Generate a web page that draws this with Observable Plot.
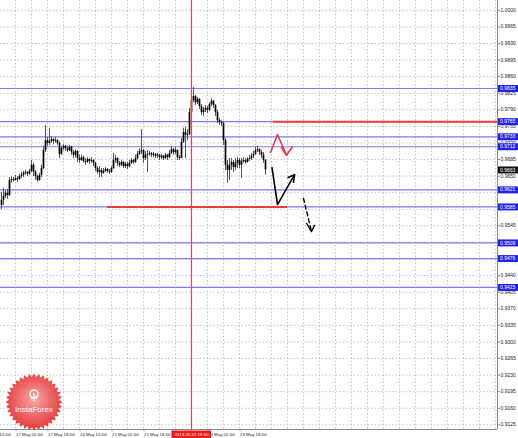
<!DOCTYPE html>
<html><head><meta charset="utf-8">
<script src="https://cdn.jsdelivr.net/npm/d3@7"></script>
<script src="https://cdn.jsdelivr.net/npm/@observablehq/plot@0.6"></script>
<style>
html,body{margin:0;padding:0;background:#fff;}
#chart{position:relative;width:518px;height:438px;overflow:hidden;}
</style></head><body><div id="chart"></div>
<script>
// H1 bars, index 0 = 17 May 02:00 (weekend hours skipped); first bar is index -7
const firstBarIndex = -7;
// prices in pips (x 0.0001)
const openPips = [9588,9599,9607,9614,9609,9641,9643,9641,9645,9643,9649,9652,9656,9658,9654,9660,9673,9658,9649,9641,9652,9666,9704,9725,9719,9723,9727,9723,9725,9719,9696,9708,9713,9708,9704,9711,9700,9694,9702,9687,9683,9689,9681,9679,9685,9681,9683,9677,9666,9658,9662,9656,9660,9664,9660,9658,9666,9683,9687,9677,9673,9679,9670,9675,9670,9677,9683,9679,9687,9696,9702,9704,9687,9694,9696,9698,9694,9696,9692,9694,9689,9692,9687,9694,9689,9698,9706,9700,9704,9689,9687,9722,9742,9736,9738,9784,9810,9818,9805,9812,9797,9784,9789,9793,9789,9801,9808,9799,9784,9767,9763,9761,9725,9673,9662,9673,9679,9668,9677,9683,9673,9681,9683,9679,9685,9687,9692,9696,9704,9706,9700,9694,9683];
const highPips = [9616,9624,9620,9622,9647,9649,9647,9652,9649,9654,9658,9660,9662,9660,9664,9683,9677,9662,9652,9656,9673,9713,9757,9732,9751,9734,9729,9732,9727,9722,9713,9717,9715,9713,9715,9713,9704,9706,9704,9694,9694,9692,9687,9689,9687,9689,9685,9679,9670,9670,9666,9666,9668,9666,9664,9670,9698,9694,9689,9681,9683,9681,9679,9679,9683,9687,9685,9694,9702,9708,9748,9706,9702,9704,9702,9700,9700,9698,9698,9696,9696,9694,9698,9696,9704,9713,9708,9711,9706,9694,9729,9751,9753,9748,9793,9820,9837,9820,9816,9814,9801,9795,9799,9797,9805,9814,9810,9801,9789,9772,9767,9765,9729,9683,9687,9687,9683,9687,9689,9687,9687,9689,9687,9689,9694,9698,9702,9711,9713,9708,9704,9700,9685];
const lowPips = [9579,9588,9603,9601,9607,9635,9637,9639,9637,9641,9645,9647,9652,9649,9652,9658,9649,9641,9637,9639,9647,9664,9700,9713,9715,9719,9717,9719,9715,9687,9694,9704,9702,9700,9702,9694,9687,9689,9679,9677,9681,9677,9673,9677,9675,9677,9670,9660,9654,9647,9647,9654,9658,9656,9654,9656,9664,9677,9670,9668,9670,9666,9666,9664,9668,9675,9675,9677,9685,9694,9696,9677,9683,9658,9692,9689,9689,9687,9687,9683,9685,9683,9685,9683,9687,9696,9694,9696,9683,9683,9687,9719,9687,9725,9736,9782,9805,9799,9801,9791,9778,9776,9784,9782,9786,9797,9793,9776,9761,9757,9755,9715,9662,9635,9641,9662,9658,9662,9666,9666,9645,9677,9675,9677,9681,9683,9687,9694,9700,9694,9687,9677,9652];
const closePips = [9599,9607,9614,9609,9641,9643,9641,9645,9643,9649,9652,9656,9658,9654,9660,9673,9658,9649,9641,9652,9666,9704,9725,9719,9723,9727,9723,9725,9719,9696,9708,9713,9708,9704,9711,9700,9694,9702,9687,9683,9689,9681,9679,9685,9681,9683,9677,9666,9658,9662,9656,9660,9664,9660,9658,9666,9683,9687,9677,9673,9679,9670,9675,9670,9677,9683,9679,9687,9696,9702,9704,9687,9694,9696,9698,9694,9696,9692,9694,9689,9692,9687,9694,9689,9698,9706,9700,9704,9689,9687,9722,9742,9736,9738,9784,9810,9818,9805,9812,9797,9784,9789,9793,9789,9801,9808,9799,9784,9767,9763,9761,9725,9673,9662,9673,9679,9668,9677,9683,9673,9681,9683,9679,9685,9687,9692,9696,9704,9706,9700,9694,9683,9663];

// support / resistance levels (blue) and current price
const levels = [0.9835, 0.9765, 0.9733, 0.9712, 0.9621, 0.9585, 0.9509, 0.9476, 0.9415];
const currentPrice = 0.9663;
// red level segments
const redLevels = [{p: 0.9765, i1: 129, i2: 241}, {p: 0.9585, i1: 46, i2: 136}];
// y tick values
const yTicks = [1.0000,0.9965,0.9930,0.9895,0.9860,0.9825,0.9790,0.9755,0.9720,0.9685,0.9650,0.9615,0.9580,0.9545,0.9510,0.9475,0.9440,0.9405,0.9370,0.9335,0.9300,0.9265,0.9230,0.9195,0.9160,0.9125];
// x tick labels
const xTickIdx = [-16, 0, 16, 32, 48, 64, 80, 96, 112];
const xTickLabels = ["16 May 10:00","17 May 02:00","17 May 18:00","20 May 10:00","21 May 02:00","21 May 18:00","22 May 10:00","23 May 02:00","23 May 18:00"];
const markIdx = 88;
const markLabel = "2013.05.22 18:00";
// forecast arrows (bar index, price)
const redZig = [{i:127.5,p:0.9700},{i:131,p:0.9738},{i:135.5,p:0.9694}];
const redZigHead = [{i:133,p:0.9710},{i:135.5,p:0.9694},{i:138.5,p:0.9712}];
const blackPath = [{i:128.25,p:0.9668},{i:131,p:0.9590},{i:139.5,p:0.9653}];
const blackHead = [{i:136.3,p:0.9647},{i:139.5,p:0.9653},{i:139,p:0.9637}];
const dashPath = [{i:144,p:0.9603},{i:148,p:0.9533}];
const dashHead = [{i:145.6,p:0.9550},{i:148,p:0.9533},{i:149.5,p:0.9546}];

const xDomain = [-7.5, 241];
const yDomain = [0.91152, 1.00207];
const H = 438, mB = 9;
const pricePerPx = (yDomain[1]-yDomain[0])/(H-mB);

const bars = openPips.map((o,k)=>({i: firstBarIndex+k, o: o/1e4, h: highPips[k]/1e4, l: lowPips[k]/1e4, c: closePips[k]/1e4}));
const boxes = [...levels.map(v=>({v, fill:"#2222ee"})), {v: currentPrice, fill:"#111"}];
const tickShown = yTicks.filter(t => !boxes.some(b => Math.abs(b.v - t) < 0.0007));
const labelY = yDomain[0] - 5*pricePerPx;
const fmt = d3.format(".4f");
const markLine = [{i: markIdx, p: yDomain[0] - 1*pricePerPx}, {i: markIdx, p: yDomain[1]}];

const plot = Plot.plot({
  width: 518, height: H,
  marginLeft: 0, marginRight: 21, marginTop: 0, marginBottom: mB,
  x: {domain: xDomain},
  y: {domain: yDomain},
  style: {background: "white", fontFamily: "Liberation Sans, Arial, sans-serif", color: "#222"},
  marks: [
    Plot.ruleX(d3.range(-8, 241, 8).filter(d => d !== markIdx), {stroke: "#c4c4c4", strokeDasharray: "1.5,2"}),
    Plot.ruleY(yTicks, {stroke: "#c4c4c4", strokeDasharray: "1.5,2"}),
    Plot.ruleY(levels, {stroke: "#7b7bf2", strokeWidth: 1.2}),
    Plot.ruleY(redLevels, {y: "p", x1: "i1", x2: "i2", stroke: "#ee3b3b", strokeWidth: 2}),
    Plot.ruleX(bars, {x: "i", y1: "l", y2: "h", stroke: "#555", strokeWidth: 1}),
    Plot.ruleX(bars, {x: "i", y1: "o", y2: "c", stroke: "#000", strokeWidth: 1.7}),
    Plot.line(markLine, {x: "i", y: "p", stroke: "#ff3b3b", strokeWidth: 1.1}),
    Plot.line(redZig, {x: "i", y: "p", stroke: "#f03030", strokeWidth: 1.5}),
    Plot.line(redZigHead, {x: "i", y: "p", stroke: "#f03030", strokeWidth: 1.5}),
    Plot.line(blackPath, {x: "i", y: "p", stroke: "#000", strokeWidth: 1.6}),
    Plot.line(blackHead, {x: "i", y: "p", stroke: "#000", strokeWidth: 1.6}),
    Plot.line(dashPath, {x: "i", y: "p", stroke: "#000", strokeWidth: 1.4, strokeDasharray: "4,3"}),
    Plot.line(dashHead, {x: "i", y: "p", stroke: "#000", strokeWidth: 1.4}),
    Plot.ruleX([xDomain[1]], {stroke: "#888"}),
    Plot.ruleY([yDomain[0]], {stroke: "#888", x1: xDomain[0], x2: xDomain[1]}),
    Plot.axisY(tickShown, {anchor: "right", tickFormat: fmt, tickSize: 2, tickPadding: 1, fontSize: 5, label: null, stroke: "#888"}),
    Plot.axisX(xTickIdx, {anchor: "bottom", tickFormat: d => xTickLabels[xTickIdx.indexOf(d)], textAnchor: "start", dx: 0.5, tickSize: 2, tickPadding: 1, fontSize: 4.4, label: null, stroke: "#888"}),
    Plot.ruleY(boxes, {y: "v", x1: xDomain[1]+0.5, x2: xDomain[1]+11, stroke: "fill", strokeWidth: 7}),
    Plot.text(boxes, {y: "v", x: xDomain[1]+1.3, text: d => fmt(d.v), textAnchor: "start", fill: "white", fontSize: 5}),
    Plot.ruleY([labelY], {x1: markIdx-9.75, x2: markIdx+10, stroke: "#f01818", strokeWidth: 8}),
    Plot.text([markIdx], {x: d => d, y: labelY, text: () => markLabel, fill: "white", fontSize: 4.4})
  ]
});
document.getElementById("chart").appendChild(plot);

// InstaForex badge (decoration)
const svg = d3.select(plot);
const defs = svg.append("defs");
const gr = defs.append("radialGradient").attr("id", "ifx").attr("cx", "50%").attr("cy", "45%").attr("r", "55%");
gr.append("stop").attr("offset", "0%").attr("stop-color", "#f7a9a9");
gr.append("stop").attr("offset", "55%").attr("stop-color", "#ef6666");
gr.append("stop").attr("offset", "100%").attr("stop-color", "#e03a3a");
const cx = 34, cy = 402, N = 36;
const pts = d3.range(2*N).map(k => { const a = k*Math.PI/N; const r = k%2 ? 25 : 28.5; return [cx + r*Math.cos(a), cy + r*Math.sin(a)]; });
const g = svg.append("g");
g.append("path").attr("d", "M" + pts.map(p=>p.join(",")).join("L") + "Z").attr("fill", "url(#ifx)");
g.append("circle").attr("cx", cx).attr("cy", cy-8).attr("r", 4).attr("fill", "none").attr("stroke", "white").attr("stroke-width", 1.5);
g.append("path").attr("d", `M${cx-2.5},${cy-6}L${cx-2.5},${cy-3}M${cx},${cy-9}L${cx},${cy-1}M${cx+2.5},${cy-6}L${cx+2.5},${cy-3}`).attr("stroke", "white").attr("stroke-width", 1.3);
g.append("text").attr("x", cx).attr("y", cy+10).attr("text-anchor", "middle").attr("fill", "white")
  .attr("font-size", 8).attr("font-family", "Liberation Sans, Arial, sans-serif").text("InstaForex");
</script></body></html>
